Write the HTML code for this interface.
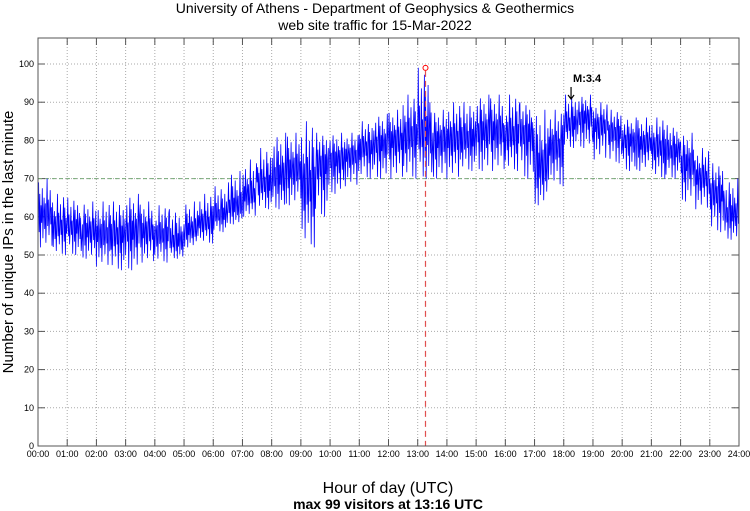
<!DOCTYPE html>
<html><head><meta charset="utf-8"><style>
body{margin:0;background:#fff}svg{display:block;font-family:"Liberation Sans",sans-serif}
</style></head><body>
<svg id="c" width="750" height="511">
<rect width="750" height="511" fill="#fff"/>
<text x="375" y="13" font-size="14" text-anchor="middle">University of Athens - Department of Geophysics &amp; Geothermics</text>
<text x="375" y="30" font-size="14" text-anchor="middle">web site traffic for 15-Mar-2022</text>
<text transform="translate(13,242) rotate(-90)" font-size="15" text-anchor="middle">Number of unique IPs in the last minute</text>
<text x="388" y="493" font-size="16" text-anchor="middle">Hour of day (UTC)</text>
<text x="388" y="509" font-size="14" font-weight="bold" text-anchor="middle">max 99 visitors at 13:16 UTC</text>
<g id="grid"></g><g id="series"></g><g id="over"></g>
<rect x="38" y="38" width="701" height="408" fill="none" stroke="#555"/>
</svg>
<script>
const hours=[0,1,2,3,4,5,6,7,8,9,10,11,12,13,14,15,16,17,18,19,20,21,22,23,24];
const yTicks=[0,10,20,30,40,50,60,70,80,90,100];
const lowVals=[52,50,50,49,47,46,46,48,48,49,52,53,56,58,60,62,62,63,52,60,66,68,70,70,70,70,70,70,70,72,72,72,72,70,63,68,78,78,75,74,72,72,70,70,64,62,56,54];
const midVals=[60,57,57,56,55,55,56,56,55,53,56,58,60,62,65,68,70,72,68,74,75,76,78,79,80,81,81,80,80,80,82,82,81,82,72,78,84,86,84,82,80,79,78,77,74,70,66,60];
const highVals=[70,66,65,64,64,64,66,64,63,62,64,66,68,72,75,78,82,82,85,82,82,82,85,87,88,92,99,88,90,90,92,92,92,90,88,88,92,92,90,88,86,86,86,84,82,78,74,70];
const maxVal=99, maxHour=13+16/60, refLine=70, markerHour=18.25, markerLabel="M:3.4";
const X=h=>38+h*701/24, Y=v=>446-v*3.82;
const NS="http://www.w3.org/2000/svg";
function mk(p,t,a){const e=document.createElementNS(NS,t);for(const k in a)e.setAttribute(k,a[k]);p.appendChild(e);return e;}
const g=document.getElementById('grid'),s=document.getElementById('series'),o=document.getElementById('over');
hours.forEach(h=>{
 if(h>0&&h<24){const l=mk(g,'line',{x1:X(h),x2:X(h),y1:38,y2:446,stroke:'#aaa','stroke-dasharray':'1,2'});
 
 mk(g,'line',{x1:X(h),x2:X(h),y1:446,y2:439,stroke:'#555'});mk(g,'line',{x1:X(h),x2:X(h),y1:38,y2:45,stroke:'#555'});}
 const t=mk(g,'text',{x:X(h),y:457,'font-size':9,'text-anchor':'middle'});
 t.textContent=String(h).padStart(2,'0')+':00';
 
});
yTicks.forEach(v=>{
 if(v>0){const l=mk(g,'line',{x1:38,x2:739,y1:Y(v),y2:Y(v),stroke:'#aaa','stroke-dasharray':'1,2'});
 
 mk(g,'line',{x1:38,x2:45,y1:Y(v),y2:Y(v),stroke:'#555'});mk(g,'line',{x1:732,x2:739,y1:Y(v),y2:Y(v),stroke:'#555'});}
 const t=mk(g,'text',{x:34,y:Y(v)+3,'font-size':9,'text-anchor':'end'});t.textContent=v;
 
});
const rl=mk(g,'line',{x1:38,x2:739,y1:Y(refLine),y2:Y(refLine),stroke:'#7a7','stroke-dasharray':'4,3'});

// jitter shape (styling only): fraction of distance from mid toward high (+) or low (-)
const shape=[0.2,0.9,-0.5,0.6,-1,0.3,-0.2,0.75,-0.7,0.1,0.5,-0.4,0.35,-0.85,0.15,1,-0.3,0.45,-0.6,0.05,0.7,-0.25,0.25,-0.95];
let pts=[];const n=lowVals.length,step=24/n,sub=24;
for(let i=0;i<n;i++){for(let k=0;k<sub;k++){const h=i*step+k*step/sub;const f=shape[(k+i*7)%shape.length];
 const v=f>=0?midVals[i]+f*(highVals[i]-midVals[i]):midVals[i]+f*(midVals[i]-lowVals[i]);
 pts.push(X(h).toFixed(1)+','+Y(v).toFixed(1));}}
const pl=mk(s,'polyline',{points:pts.join(' '),fill:'none',stroke:'#0000ff','stroke-width':0.8});

const vl=mk(o,'line',{x1:X(maxHour),x2:X(maxHour),y1:Y(maxVal)+3,y2:446,stroke:'#e05050','stroke-dasharray':'6,4','stroke-width':1.2});

const c=mk(o,'circle',{cx:X(maxHour),cy:Y(maxVal),r:2.5,fill:'none',stroke:'red'});

const mt=mk(o,'text',{x:X(markerHour)+2,y:82,'font-size':11,'font-weight':'bold'});mt.textContent=markerLabel;

const ax=X(markerHour);
const ar=mk(o,'path',{d:`M${ax},87 L${ax},99 M${ax-3},95 L${ax},99 L${ax+3},95`,fill:'none',stroke:'#000','stroke-width':1.2});

</script>
</body></html>
